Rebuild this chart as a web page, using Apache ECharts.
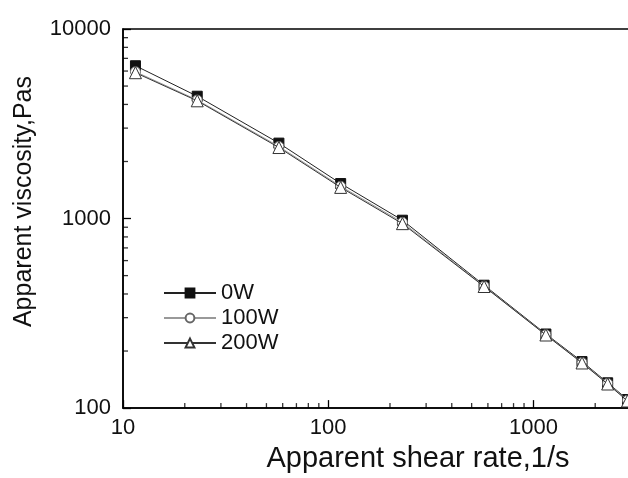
<!DOCTYPE html>
<html>
<head>
<meta charset="utf-8">
<script src="https://cdn.jsdelivr.net/npm/echarts@6/dist/echarts.min.js"></script>
<style>html,body{margin:0;padding:0;background:#fff;overflow:hidden;width:628px;height:478px}#c{width:713px;height:478px}</style>
</head>
<body>
<div id="c"></div>
<script>
var shearRate = [11.5, 23, 57.5, 115, 230, 575, 1150, 1725, 2300, 2875];
var visc0W   = [6400, 4420, 2500, 1530, 980, 445, 246, 176, 136, 111];
var visc100W = [5950, 4220, 2400, 1480, 955, 440, 244, 174, 135, 110];
var visc200W = [5880, 4180, 2370, 1460, 940, 438, 243, 173, 134, 109];
var seriesNames = ['0W', '100W', '200W'];
var xMinorTicks = [20, 30, 40, 50, 60, 70, 80, 90, 200, 300, 400, 500, 600, 700, 800, 900, 2000, 3000, 4000, 5000, 6000, 7000];
var yMinorTicks = [200, 300, 400, 500, 600, 700, 800, 900, 2000, 3000, 4000, 5000, 6000, 7000, 8000, 9000];

function pairs(xs, ys) { return xs.map(function (x, i) { return [x, ys[i]]; }); }

var FONT = 'Liberation Sans, Arial, sans-serif';
var chart = echarts.init(document.getElementById('c'), null, {renderer: 'canvas'});

var option = {
  backgroundColor: '#fff',
  animation: false,
  textStyle: {fontFamily: FONT},
  grid: {left: 123, top: 29, bottom: 68, right: 0, show: true, borderColor: '#000', borderWidth: 1.5, containLabel: false},
  xAxis: {
    type: 'log', logBase: 10, min: 10, max: 7500,
    name: 'Apparent shear rate,1/s', nameLocation: 'middle', nameGap: 27,
    nameTextStyle: {fontSize: 29, color: '#111', fontFamily: FONT},
    axisLine: {show: true, lineStyle: {color: '#000', width: 1.5}},
    axisTick: {show: true, inside: true, length: 8, lineStyle: {color: '#000', width: 1.3}},
    axisLabel: {fontSize: 22, color: '#111', margin: 9, fontFamily: FONT, showMaxLabel: false,
      formatter: function (v) { var l = Math.log10(v); return Math.abs(l - Math.round(l)) < 1e-6 ? String(Math.round(v)) : ''; }},
    splitLine: {show: false}
  },
  yAxis: {
    type: 'log', logBase: 10, min: 100, max: 10000,
    name: 'Apparent viscosity,Pas', nameLocation: 'middle', nameGap: 86,
    nameTextStyle: {fontSize: 25, color: '#111', fontFamily: FONT, padding: [0, 0, 0, 34]},
    axisLine: {show: true, lineStyle: {color: '#000', width: 1.5}},
    axisTick: {show: true, inside: true, length: 8, lineStyle: {color: '#000', width: 1.3}},
    axisLabel: {fontSize: 22, color: '#111', margin: 12, fontFamily: FONT,
      formatter: function (v) { return String(Math.round(v)); }},
    splitLine: {show: false}
  },
  legend: {
    orient: 'vertical', left: 158, top: 277, itemWidth: 52, itemHeight: 11, itemGap: 3,
    textStyle: {fontSize: 22, color: '#111', fontFamily: FONT},
    data: seriesNames
  },
  series: [
    {name: seriesNames[0], type: 'line', data: pairs(shearRate, visc0W), symbol: 'rect', symbolSize: 10,
      lineStyle: {color: '#222', width: 1}, itemStyle: {color: '#111', borderColor: '#111', borderWidth: 1}, z: 3},
    {name: seriesNames[1], type: 'line', data: pairs(shearRate, visc100W), symbol: 'circle', symbolSize: 10,
      lineStyle: {color: '#999', width: 1}, itemStyle: {color: '#fff', borderColor: '#666', borderWidth: 1}, z: 4},
    {name: seriesNames[2], type: 'line', data: pairs(shearRate, visc200W), symbol: 'triangle', symbolSize: 12,
      lineStyle: {color: '#333', width: 1}, itemStyle: {color: '#fff', borderColor: '#333', borderWidth: 1}, z: 5},
    {type: 'scatter', silent: true, clip: false, data: xMinorTicks.map(function (v) { return [v, 100]; }),
      symbol: 'rect', symbolSize: [1.3, 5], symbolOffset: [0, -2.5], itemStyle: {color: '#000'}, z: 10},
    {type: 'scatter', silent: true, clip: false, data: yMinorTicks.map(function (v) { return [10, v]; }),
      symbol: 'rect', symbolSize: [5, 1.3], symbolOffset: [2.5, 0], itemStyle: {color: '#000'}, z: 10}
  ]
};
chart.setOption(option);
</script>
</body>
</html>
